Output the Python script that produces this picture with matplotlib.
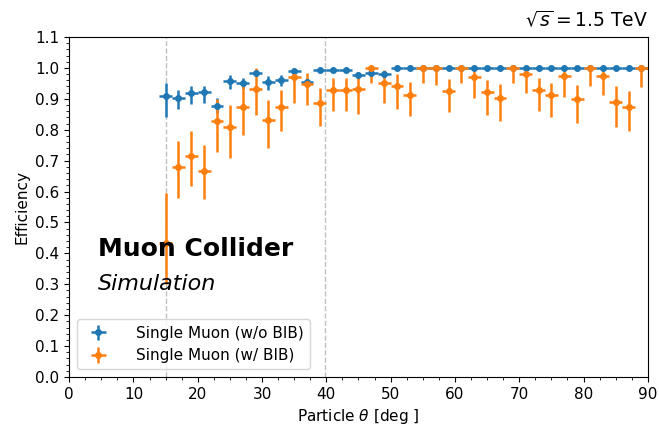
import matplotlib
matplotlib.use('Agg')
import matplotlib.pyplot as plt
from matplotlib.ticker import AutoMinorLocator

# bin centres (2 deg bins from 14 to 90)
theta = [15, 17, 19, 21, 23, 25, 27, 29, 31, 33, 35, 37, 39, 41, 43, 45, 47, 49, 51,
         53, 55, 57, 59, 61, 63, 65, 67, 69, 71, 73, 75, 77, 79, 81, 83, 85, 87, 89]
theta_err = [1] * len(theta)

# single muon, no BIB
eff_nobib = [0.909, 0.904, 0.920, 0.923, 0.878, 0.959, 0.950, 0.985, 0.953, 0.961,
             0.991, 0.953, 0.994, 0.994, 0.994, 0.977, 0.985, 0.980, 1.0,
             1.0, 1.0, 1.0, 1.0, 1.0, 1.0, 1.0, 1.0, 1.0, 1.0, 1.0,
             1.0, 1.0, 1.0, 1.0, 1.0, 1.0, 1.0, 1.0]
lo_nobib = [0.067, 0.038, 0.037, 0.035, 0.023, 0.027, 0.018, 0.010, 0.025, 0.020,
            0.008, 0.015, 0.006, 0.006, 0.006, 0.012, 0.010, 0.012, 0.004,
            0.004, 0.004, 0.004, 0.004, 0.004, 0.004, 0.004, 0.004, 0.004, 0.004, 0.004,
            0.004, 0.004, 0.004, 0.004, 0.004, 0.004, 0.004, 0.004]
hi_nobib = [0.043, 0.025, 0.023, 0.020, 0.024, 0.018, 0.016, 0.008, 0.020, 0.015,
            0.006, 0.015, 0.005, 0.005, 0.005, 0.010, 0.008, 0.010, 0.0,
            0.0, 0.0, 0.0, 0.0, 0.0, 0.0, 0.0, 0.0, 0.0, 0.0, 0.0,
            0.0, 0.0, 0.0, 0.0, 0.0, 0.0, 0.0, 0.0]

# single muon, with BIB
eff_bib = [0.435, 0.679, 0.716, 0.668, 0.829, 0.808, 0.873, 0.932, 0.832, 0.873,
           0.969, 0.948, 0.886, 0.928, 0.929, 0.931, 1.0, 0.952, 0.942,
           0.913, 1.0, 1.0, 0.926, 1.0, 0.972, 0.921, 0.904, 1.0, 0.980, 0.929,
           0.911, 0.974, 0.899, 1.0, 0.975, 0.891, 0.875, 1.0]
lo_bib = [0.135, 0.100, 0.097, 0.092, 0.100, 0.098, 0.090, 0.084, 0.090, 0.076,
          0.083, 0.068, 0.073, 0.069, 0.067, 0.081, 0.050, 0.064, 0.075,
          0.068, 0.048, 0.055, 0.069, 0.048, 0.068, 0.073, 0.075, 0.048, 0.060, 0.067,
          0.069, 0.067, 0.078, 0.057, 0.064, 0.081, 0.079, 0.061]
hi_bib = [0.160, 0.086, 0.081, 0.081, 0.071, 0.072, 0.070, 0.068, 0.065, 0.054,
          0.030, 0.035, 0.048, 0.038, 0.037, 0.035, 0.0, 0.040, 0.037,
          0.040, 0.0, 0.0, 0.038, 0.0, 0.028, 0.040, 0.044, 0.0, 0.020, 0.037,
          0.039, 0.026, 0.046, 0.0, 0.025, 0.051, 0.051, 0.0]

nozzle_lines = [15, 39.8]

plt.rcParams['font.size'] = 11

fig, ax = plt.subplots(figsize=(6.59, 4.25), dpi=100)
fig.subplots_adjust(left=0.105, right=0.983, top=0.913, bottom=0.113)

for xl in nozzle_lines:
    ax.axvline(xl, color='gray', ls='--', lw=1, alpha=0.5)

ax.errorbar(theta, eff_nobib, xerr=theta_err, yerr=[lo_nobib, hi_nobib],
            fmt='o', ms=4, elinewidth=1.8, color='tab:blue',
            label='Single Muon (w/o BIB)')
ax.errorbar(theta, eff_bib, xerr=theta_err, yerr=[lo_bib, hi_bib],
            fmt='o', ms=4, elinewidth=1.8, color='tab:orange',
            label='Single Muon (w/ BIB)')

ax.set_xlim(0, 90)
ax.set_ylim(0, 1.1)
ax.set_yticks([i / 10 for i in range(12)])
ax.xaxis.set_minor_locator(AutoMinorLocator(4))
ax.yaxis.set_minor_locator(AutoMinorLocator(5))
ax.set_xlabel(r'Particle $\theta$ [deg ]')
ax.set_ylabel('Efficiency')

ax.text(0.05, 0.376, 'Muon Collider', transform=ax.transAxes,
        fontsize=18, fontweight='bold', va='center')
ax.text(0.05, 0.274, 'Simulation', transform=ax.transAxes,
        fontsize=16, style='italic', va='center')
ax.text(1.0, 1.02, r'$\sqrt{s} = 1.5$ TeV', transform=ax.transAxes,
        fontsize=13.5, ha='right', va='bottom')

ax.legend(loc='lower left', handletextpad=1.5)

plt.savefig('out.png', dpi=100)
